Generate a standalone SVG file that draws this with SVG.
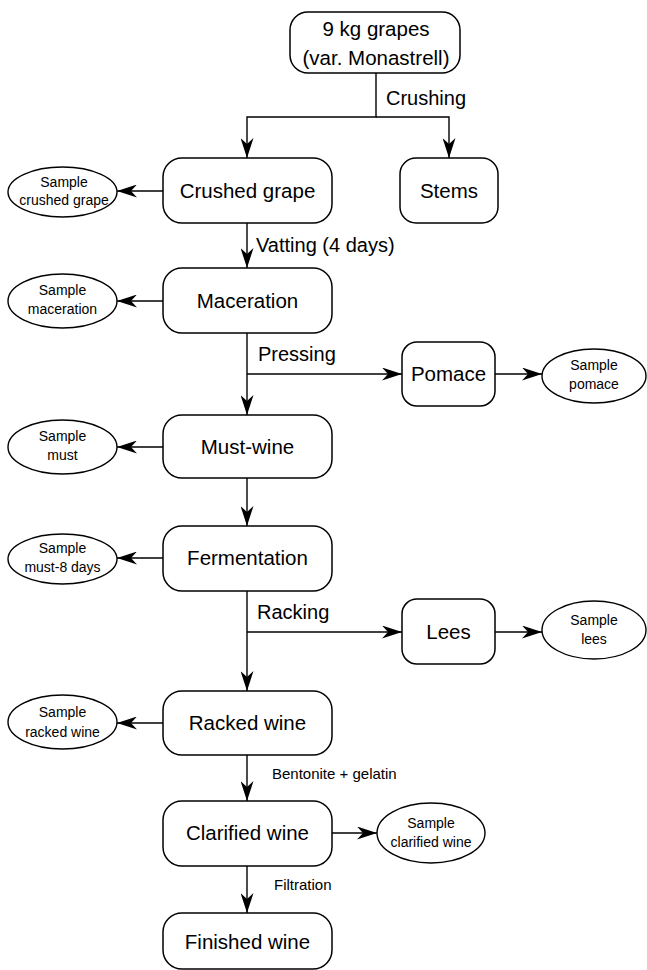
<svg xmlns="http://www.w3.org/2000/svg" width="647" height="970" viewBox="0 0 647 970">
<style>
.box{fill:#fff;stroke:#000;stroke-width:1.5}
.ell{fill:#fff;stroke:#000;stroke-width:1.4}
.t{font-family:"Liberation Sans",Arial,sans-serif;font-size:20.5px;fill:#000;text-anchor:middle}
.s{font-family:"Liberation Sans",Arial,sans-serif;font-size:14px;fill:#000;text-anchor:middle}
.lbl{font-family:"Liberation Sans",Arial,sans-serif;font-size:20px;fill:#000}
.lbs{font-family:"Liberation Sans",Arial,sans-serif;font-size:15px;fill:#000}
.c{fill:none;stroke:#000;stroke-width:1.4}
</style>
<defs>
<marker id="ah" markerUnits="userSpaceOnUse" markerWidth="20" markerHeight="13" viewBox="0 0 20 13" refX="20" refY="6.5" orient="auto">
<path d="M0,0 L20,6.5 L0,13 L6,6.5 Z" fill="#000"/>
</marker>
</defs>
<rect width="647" height="970" fill="#fff"/>
<g id="connectors">
<path class="c" d="M376,73 V117 H247 V158" marker-end="url(#ah)"/>
<path class="c" d="M376,117 H449 V158" marker-end="url(#ah)"/>
<path class="c" d="M163,191 H117" marker-end="url(#ah)"/>
<path class="c" d="M247,223 V268" marker-end="url(#ah)"/>
<path class="c" d="M163,301 H117" marker-end="url(#ah)"/>
<path class="c" d="M247,333 V415" marker-end="url(#ah)"/>
<path class="c" d="M247,374 H402" marker-end="url(#ah)"/>
<path class="c" d="M495,374 H542" marker-end="url(#ah)"/>
<path class="c" d="M163,447 H117" marker-end="url(#ah)"/>
<path class="c" d="M247,478 V526" marker-end="url(#ah)"/>
<path class="c" d="M163,558 H117" marker-end="url(#ah)"/>
<path class="c" d="M247,591 V691" marker-end="url(#ah)"/>
<path class="c" d="M247,632 H402" marker-end="url(#ah)"/>
<path class="c" d="M495,632 H542" marker-end="url(#ah)"/>
<path class="c" d="M163,723 H117" marker-end="url(#ah)"/>
<path class="c" d="M247,755 V801" marker-end="url(#ah)"/>
<path class="c" d="M332,833 H377" marker-end="url(#ah)"/>
<path class="c" d="M247,866 V913" marker-end="url(#ah)"/>
<text class="lbl" x="386" y="105">Crushing</text>
<text class="lbl" x="256" y="252">Vatting (4 days)</text>
<text class="lbl" x="258" y="361">Pressing</text>
<text class="lbl" x="257" y="619">Racking</text>
<text class="lbs" x="272" y="779">Bentonite + gelatin</text>
<text class="lbs" x="274" y="890">Filtration</text>
</g>
<g id="grapes">
<rect class="box" x="290" y="12" width="170" height="61" rx="18"/>
<text class="t" x="376" y="36">9 kg grapes</text>
<text class="t" x="376" y="65">(var. Monastrell)</text>
</g>
<g id="crushed-grape">
<rect class="box" x="163" y="158" width="169" height="65" rx="19"/>
<text class="t" x="247.5" y="198">Crushed grape</text>
</g>
<g id="stems">
<rect class="box" x="400" y="158" width="98" height="65" rx="16"/>
<text class="t" x="449" y="198">Stems</text>
</g>
<g id="sample-crushed">
<ellipse class="ell" cx="62.5" cy="192" rx="54.5" ry="25"/>
<text class="s" x="64" y="187">Sample</text>
<text class="s" x="64" y="205">crushed grape</text>
</g>
<g id="maceration">
<rect class="box" x="163" y="268" width="169" height="65" rx="19"/>
<text class="t" x="247.5" y="308">Maceration</text>
</g>
<g id="sample-maceration">
<ellipse class="ell" cx="62.5" cy="301" rx="54.5" ry="27"/>
<text class="s" x="62.5" y="295">Sample</text>
<text class="s" x="62.5" y="314">maceration</text>
</g>
<g id="pomace">
<rect class="box" x="402" y="342" width="93" height="64" rx="15"/>
<text class="t" x="448.5" y="381">Pomace</text>
</g>
<g id="sample-pomace">
<ellipse class="ell" cx="594" cy="376" rx="52" ry="27"/>
<text class="s" x="594" y="370">Sample</text>
<text class="s" x="594" y="389">pomace</text>
</g>
<g id="must-wine">
<rect class="box" x="163" y="415" width="169" height="63" rx="19"/>
<text class="t" x="247.5" y="454">Must-wine</text>
</g>
<g id="sample-must">
<ellipse class="ell" cx="62.5" cy="447" rx="54.5" ry="27"/>
<text class="s" x="62.5" y="441">Sample</text>
<text class="s" x="62.5" y="460">must</text>
</g>
<g id="fermentation">
<rect class="box" x="163" y="526" width="169" height="65" rx="19"/>
<text class="t" x="247.5" y="565">Fermentation</text>
</g>
<g id="sample-must-8">
<ellipse class="ell" cx="62.5" cy="559" rx="54.5" ry="25"/>
<text class="s" x="62.5" y="553">Sample</text>
<text class="s" x="62.5" y="572">must-8 days</text>
</g>
<g id="lees">
<rect class="box" x="402" y="599" width="93" height="65" rx="15"/>
<text class="t" x="448.5" y="639">Lees</text>
</g>
<g id="sample-lees">
<ellipse class="ell" cx="594" cy="630" rx="52" ry="29"/>
<text class="s" x="594" y="625">Sample</text>
<text class="s" x="594" y="644">lees</text>
</g>
<g id="racked-wine">
<rect class="box" x="163" y="691" width="169" height="64" rx="19"/>
<text class="t" x="247.5" y="730">Racked wine</text>
</g>
<g id="sample-racked">
<ellipse class="ell" cx="62.5" cy="722" rx="54.5" ry="27"/>
<text class="s" x="62.5" y="717">Sample</text>
<text class="s" x="62.5" y="737">racked wine</text>
</g>
<g id="clarified-wine">
<rect class="box" x="163" y="801" width="169" height="65" rx="19"/>
<text class="t" x="247.5" y="840">Clarified wine</text>
</g>
<g id="sample-clarified">
<ellipse class="ell" cx="431" cy="833" rx="54" ry="30"/>
<text class="s" x="431" y="828">Sample</text>
<text class="s" x="431" y="847">clarified wine</text>
</g>
<g id="finished-wine">
<rect class="box" x="163" y="913" width="169" height="56" rx="19"/>
<text class="t" x="247.5" y="949">Finished wine</text>
</g>
</svg>
